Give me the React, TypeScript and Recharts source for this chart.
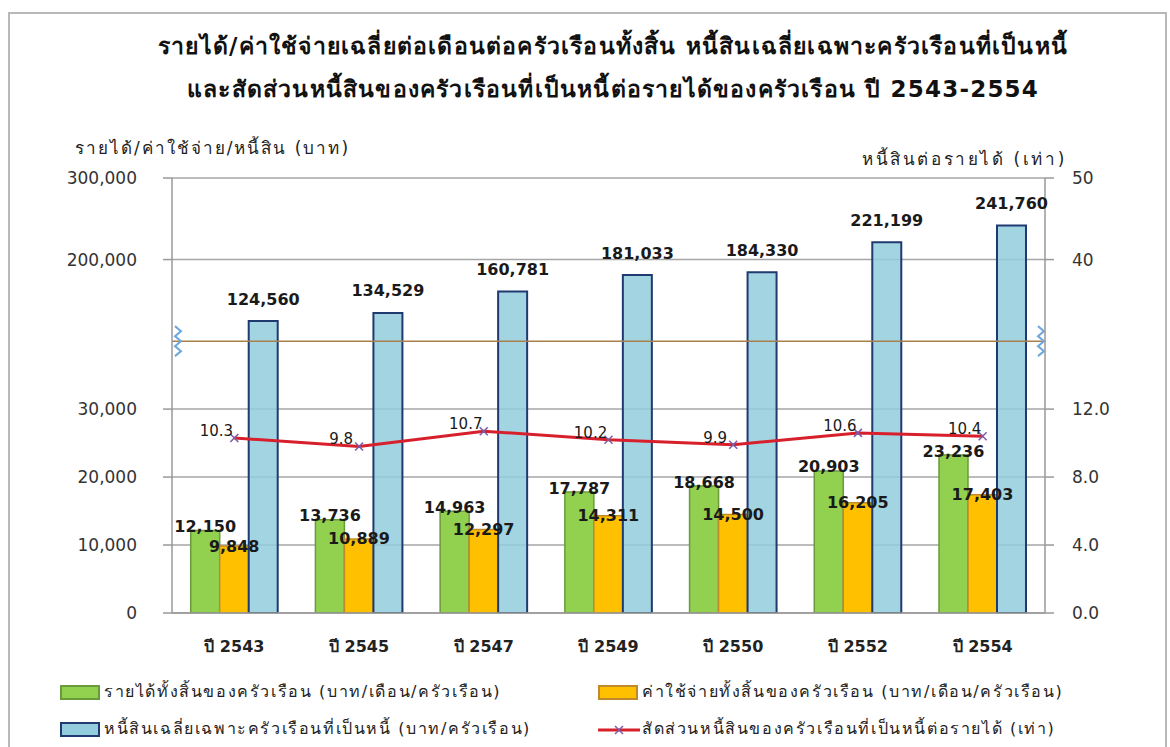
import React from "react";
import {
    ComposedChart,
    Bar,
    Line,
    XAxis,
    YAxis,
    CartesianGrid,
    LabelList,
    ReferenceLine,
} from "recharts";

// values
const YEARS = ["ปี 2543", "ปี 2545", "ปี 2547", "ปี 2549", "ปี 2550", "ปี 2552", "ปี 2554"];
const INCOME = [12150, 13736, 14963, 17787, 18668, 20903, 23236];
const EXPENSE = [9848, 10889, 12297, 14311, 14500, 16205, 17403];
const DEBT = [124560, 134529, 160781, 181033, 184330, 221199, 241760];
const RATIO = [10.3, 9.8, 10.7, 10.2, 9.9, 10.6, 10.4];

const LEFT_TICKS = [0, 10000, 20000, 30000, 200000, 300000];
const LEFT_TICK_LABELS = ["0", "10,000", "20,000", "30,000", "200,000", "300,000"];
const RIGHT_TICKS = [0, 4, 8, 12, 40, 50];
const RIGHT_TICK_LABELS = ["0.0", "4.0", "8.0", "12.0", "40", "50"];

const SERIES_NAMES = [
    "รายได้ทั้งสิ้นของครัวเรือน (บาท/เดือน/ครัวเรือน)",
    "ค่าใช้จ่ายทั้งสิ้นของครัวเรือน (บาท/เดือน/ครัวเรือน)",
    "หนี้สินเฉลี่ยเฉพาะครัวเรือนที่เป็นหนี้ (บาท/ครัวเรือน)",
    "สัดส่วนหนี้สินของครัวเรือนที่เป็นหนี้ต่อรายได้ (เท่า)",
];

// broken axis: 0-40,000 kept as is, 100,000-300,000 squeezed on top
const LOWER_MAX = 40000;
const UPPER_MIN = 100000;
const UPPER_SCALE = 0.12;
const toDisplay = (v: number) => (v <= LOWER_MAX ? v : LOWER_MAX + (v - UPPER_MIN) * UPPER_SCALE);
// right axis: 4.0 lines up with 10,000, 40 with 200,000
const ratioToLeft = (r: number) => (r <= 16 ? r * 2500 : 200000 + (r - 40) * 10000);
const TOP = toDisplay(300000);

const data = YEARS.map((year, i) => ({
    year,
    income: toDisplay(INCOME[i]),
    incomeRaw: INCOME[i],
    expense: toDisplay(EXPENSE[i]),
    expenseRaw: EXPENSE[i],
    debt: toDisplay(DEBT[i]),
    debtRaw: DEBT[i],
    ratio: toDisplay(ratioToLeft(RATIO[i])),
    ratioRaw: RATIO[i],
}));

const FONT = "Tahoma, 'DejaVu Sans', 'Noto Sans', sans-serif";
const GREEN = "#92D050";
const ORANGE = "#FFC000";
const BLUE = "#93CDDD";
const RED = "#D8202C";

const barLabel = (dy: number) => (props: any) => {
    const { x, y, width, value } = props;
    return (
        <text
            x={Number(x) + Number(width) / 2}
            y={Number(y) + dy}
            textAnchor="middle"
            dominantBaseline="central"
            fontSize={16}
            fontWeight="bold"
            fontFamily={FONT}
            fill="#1a1a1a"
        >
            {Number(value).toLocaleString("en-US")}
        </text>
    );
};

const lineLabel = (props: any) => {
    const { x, y, value } = props;
    return (
        <text
            x={Number(x) - 18}
            y={Number(y) - 7}
            textAnchor="middle"
            dominantBaseline="central"
            fontSize={15}
            fontFamily={FONT}
            fill="#1a1a1a"
        >
            {Number(value).toFixed(1)}
        </text>
    );
};

const CrossDot = (props: any) => {
    const { cx, cy } = props;
    if (cx == null || cy == null) return null;
    return (
        <g stroke="#7B5BA6" strokeWidth={1.5}>
            <line x1={cx - 4} y1={cy - 4} x2={cx + 4} y2={cy + 4} />
            <line x1={cx - 4} y1={cy + 4} x2={cx + 4} y2={cy - 4} />
        </g>
    );
};

// zigzag marks on both axes where the scale is broken
const BreakMarks = (props: any) => {
    const { viewBox } = props;
    if (!viewBox) return null;
    const { x, y, width } = viewBox;
    const zig = (cx: number) => {
        const pts: string[] = [];
        for (let k = 0; k <= 6; k++) {
            pts.push(`${cx + (k % 2 === 0 ? -3 : 3)},${y - 15 + k * 5}`);
        }
        return <polyline points={pts.join(" ")} fill="none" stroke="#6FA8DC" strokeWidth={2} />;
    };
    return (
        <g>
            {zig(x + 6)}
            {zig(x + width - 4)}
        </g>
    );
};

const LegendSwatch = ({ fill, stroke }: { fill: string; stroke: string }) => (
    <span
        style={{
            display: "inline-block",
            width: 36,
            height: 11,
            background: fill,
            border: `2px solid ${stroke}`,
            marginRight: 4,
            verticalAlign: "middle",
        }}
    />
);

const legendText: React.CSSProperties = { fontSize: 16, letterSpacing: 1.6 };

const App: React.FC = () => {
    return (
        <div style={{ position: "absolute", left: 0, top: 0, width: 1170, height: 747, background: "#fff", overflow: "hidden", fontFamily: FONT }}>
            {/* chart frame */}
            <div style={{ position: "absolute", left: 8, top: 12, width: 1155, height: 760, border: "2px solid #b8b8b8" }} />

            {/* Title */}
            <div style={{ position: "absolute", left: 28, top: 25, width: 1170, textAlign: "center", fontSize: 23, fontWeight: "bold", lineHeight: "43px", color: "#111", letterSpacing: 1.2 }}>
                รายได้/ค่าใช้จ่ายเฉลี่ยต่อเดือนต่อครัวเรือนทั้งสิ้น หนี้สินเฉลี่ยเฉพาะครัวเรือนที่เป็นหนี้
                <br />
                และสัดส่วนหนี้สินของครัวเรือนที่เป็นหนี้ต่อรายได้ของครัวเรือน ปี 2543-2554
            </div>

            <div style={{ position: "absolute", left: 75, top: 134, fontSize: 17, letterSpacing: 2, color: "#222" }}>
                รายได้/ค่าใช้จ่าย/หนี้สิน (บาท)
            </div>
            <div style={{ position: "absolute", left: 862, top: 145, fontSize: 17, letterSpacing: 2.6, color: "#222" }}>
                หนี้สินต่อรายได้ (เท่า)
            </div>

            <div style={{ position: "absolute", left: 0, top: 0 }}>
                <ComposedChart
                    width={1170}
                    height={747}
                    data={data}
                    margin={{ top: 178, right: 55, left: 72, bottom: 94 }}
                    barCategoryGap="15%"
                    barGap={0}
                >
                    <CartesianGrid yAxisId="left" vertical={false} stroke="#a6a6a6" strokeWidth={1.5} />
                    <XAxis
                        dataKey="year"
                        height={40}
                        tickLine={false}
                        axisLine={{ stroke: "#999", strokeWidth: 1.5 }}
                        tickMargin={22}
                        tick={{ fontSize: 16, fontWeight: "bold", fill: "#222", fontFamily: FONT }}
                    />
                    <YAxis
                        yAxisId="left"
                        width={100}
                        domain={[0, TOP]}
                        ticks={LEFT_TICKS.map(toDisplay)}
                        tickFormatter={(_v: number, i: number) => LEFT_TICK_LABELS[i]}
                        tickSize={9}
                        tickMargin={26}
                        tickLine={{ stroke: "#999", strokeWidth: 1.5 }}
                        axisLine={{ stroke: "#999", strokeWidth: 1.5 }}
                        tick={{ fontSize: 17, fill: "#333", fontFamily: FONT }}
                        allowDataOverflow
                    />
                    <YAxis
                        yAxisId="right"
                        orientation="right"
                        width={70}
                        domain={[0, TOP]}
                        ticks={RIGHT_TICKS.map((r) => toDisplay(ratioToLeft(r)))}
                        tickFormatter={(_v: number, i: number) => RIGHT_TICK_LABELS[i]}
                        tickSize={9}
                        tickMargin={18}
                        tickLine={{ stroke: "#999", strokeWidth: 1.5 }}
                        axisLine={{ stroke: "#999", strokeWidth: 1.5 }}
                        tick={{ fontSize: 17, fill: "#333", fontFamily: FONT, textAnchor: "start" }}
                        allowDataOverflow
                    />
                    <ReferenceLine
                        yAxisId="left"
                        y={LOWER_MAX}
                        stroke="#A8804E"
                        strokeWidth={1.5}
                        label={<BreakMarks />}
                    />
                    <Bar yAxisId="left" dataKey="income" fill={GREEN} stroke="#6B9A3A" strokeWidth={1.5} isAnimationActive={false}>
                        <LabelList dataKey="incomeRaw" content={barLabel(-4)} />
                    </Bar>
                    <Bar yAxisId="left" dataKey="expense" fill={ORANGE} stroke="#C08A2A" strokeWidth={1.5} isAnimationActive={false}>
                        <LabelList dataKey="expenseRaw" content={barLabel(0)} />
                    </Bar>
                    <Bar yAxisId="left" dataKey="debt" fill={BLUE} fillOpacity={0.85} stroke="#1F3A70" strokeWidth={2} isAnimationActive={false}>
                        <LabelList dataKey="debtRaw" content={barLabel(-22)} />
                    </Bar>
                    <Line
                        yAxisId="right"
                        dataKey="ratio"
                        type="linear"
                        stroke={RED}
                        strokeWidth={3}
                        dot={<CrossDot />}
                        activeDot={false}
                        isAnimationActive={false}
                    >
                        <LabelList dataKey="ratioRaw" content={lineLabel} />
                    </Line>
                </ComposedChart>
            </div>

            {/* Legend */}
            <div style={{ position: "absolute", left: 60, top: 679, width: 1100, color: "#222" }}>
                <div style={{ position: "absolute", left: 0, top: 0, whiteSpace: "nowrap", ...legendText }}>
                    <LegendSwatch fill={GREEN} stroke="#6B9A3A" />
                    {SERIES_NAMES[0]}
                </div>
                <div style={{ position: "absolute", left: 538, top: 0, whiteSpace: "nowrap", ...legendText }}>
                    <LegendSwatch fill={ORANGE} stroke="#C08A2A" />
                    {SERIES_NAMES[1]}
                </div>
                <div style={{ position: "absolute", left: 0, top: 37, whiteSpace: "nowrap", ...legendText }}>
                    <LegendSwatch fill={BLUE} stroke="#1F3A70" />
                    {SERIES_NAMES[2]}
                </div>
                <div style={{ position: "absolute", left: 538, top: 37, whiteSpace: "nowrap", ...legendText }}>
                    <svg width={42} height={12} style={{ verticalAlign: "middle", marginRight: 2 }}>
                        <line x1={0} y1={6} x2={42} y2={6} stroke={RED} strokeWidth={3} />
                        <line x1={17} y1={2} x2={25} y2={10} stroke="#7B5BA6" strokeWidth={1.5} />
                        <line x1={17} y1={10} x2={25} y2={2} stroke="#7B5BA6" strokeWidth={1.5} />
                    </svg>
                    {SERIES_NAMES[3]}
                </div>
            </div>
        </div>
    );
};

export default App;
